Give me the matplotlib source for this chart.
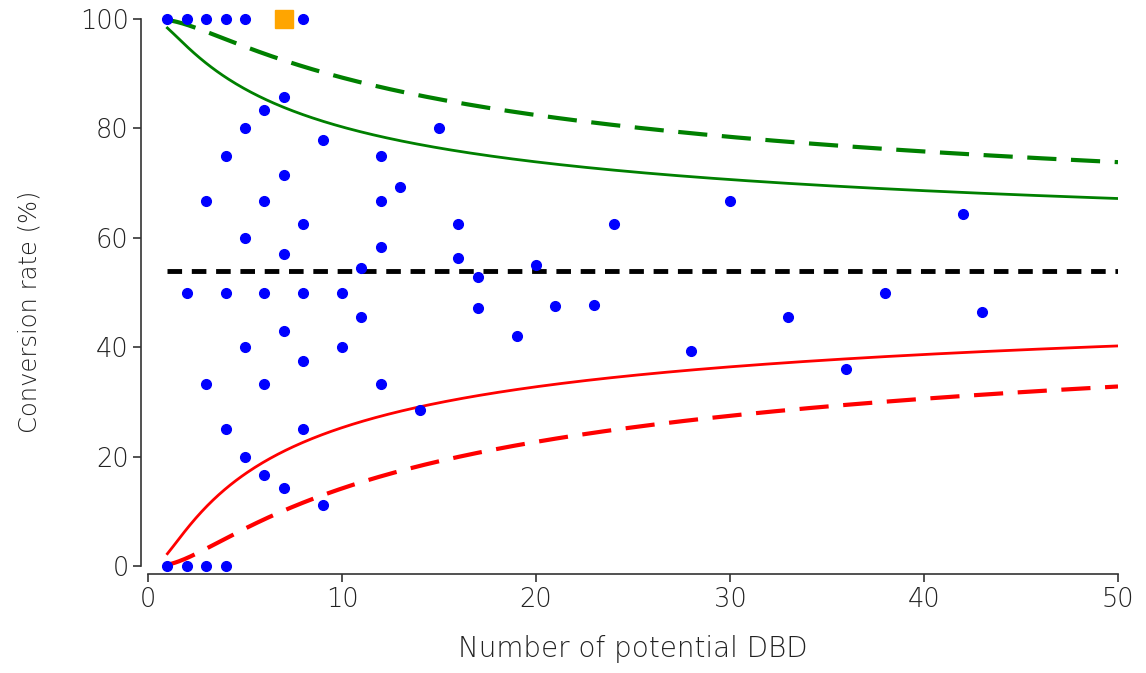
import numpy as np
import matplotlib
matplotlib.use("Agg")
import matplotlib.pyplot as plt

# --- data -------------------------------------------------------------
n_units = [1, 1, 2, 2, 2, 3, 3, 3, 3, 4, 4, 4, 4, 4,
           5, 5, 5, 5, 5, 6, 6, 6, 6, 6, 7, 7, 7, 7, 7,
           8, 8, 8, 8, 8, 9, 9, 10, 10, 11, 11, 12, 12, 12, 12,
           13, 14, 15, 16, 16, 17, 17, 19, 20, 21, 23, 24, 28, 30,
           33, 36, 38, 42, 43]
rate_pct = [100, 0, 100, 50, 0, 100, 66.7, 33.3, 0, 100, 75, 50, 25, 0,
            100, 80, 60, 40, 20, 83.3, 66.7, 50, 33.3, 16.7, 85.7, 71.4, 57.1, 42.9, 14.3,
            100, 62.5, 50, 37.5, 25, 77.8, 11.1, 50, 40, 54.5, 45.5, 75, 66.7, 58.3, 33.3,
            69.2, 28.6, 80, 62.5, 56.3, 52.9, 47.1, 42.1, 55, 47.6, 47.8, 62.5, 39.3, 66.7,
            45.5, 36.1, 50, 64.3, 46.5]
highlight_n = [7]
highlight_rate = [100]

mean_rate = 54.0          # overall conversion rate (%)
z_inner = 1.96            # 95% limits
z_outer = 3.09            # 99.8% limits
n_min, n_max = 1, 50

# --- control limits (logit-scale funnel around the mean) ---------------
n_grid = np.linspace(n_min, n_max, 500)
p0 = mean_rate / 100.0
lp = np.log(p0 / (1 - p0))
se = 1.0 / np.sqrt(n_grid * p0 * (1 - p0))
inv = lambda x: 100.0 / (1.0 + np.exp(-x))
up95, lo95 = inv(lp + z_inner * se), inv(lp - z_inner * se)
up998, lo998 = inv(lp + z_outer * se), inv(lp - z_outer * se)

# --- figure -----------------------------------------------------------
plt.rcParams['font.family'] = ['DejaVu Sans']
fig = plt.figure(figsize=(11.46, 6.73), dpi=100)
ax = fig.add_axes([148/1146, 107/673, 970/1146, 547/673])

ax.plot(n_grid, up998, color='#008000', lw=3, dashes=(7, 3.5), solid_capstyle='butt')
ax.plot(n_grid, up95, color='#008000', lw=2)
ax.plot(n_grid, lo95, color='#ff0000', lw=2)
ax.plot(n_grid, lo998, color='#ff0000', lw=3, dashes=(7, 3.5))
ax.plot([n_min, n_max], [mean_rate, mean_rate], color='black', lw=3.5, dashes=(3, 2))

ax.plot(n_units, rate_pct, 'o', color='#0000ff', ms=7, mec='#0000ff', clip_on=False, zorder=5)
ax.plot(highlight_n, highlight_rate, 's', color='#ffa500', ms=13, mec='#ffa500', clip_on=False, zorder=6)

ax.set_xlim(0, 50)
ax.set_ylim(0, 100)
ax.set_xticks([0, 10, 20, 30, 40, 50])
ax.set_yticks([0, 20, 40, 60, 80, 100])

for s in ['top', 'right']:
    ax.spines[s].set_visible(False)
ax.spines['left'].set_position(('outward', 5))
ax.spines['bottom'].set_position(('outward', 6))
ax.spines['left'].set_bounds(0, 100)
ax.spines['bottom'].set_bounds(0, 50)
for s in ['left', 'bottom']:
    ax.spines[s].set_color('#333333')
    ax.spines[s].set_linewidth(1.2)

ax.tick_params(axis='both', direction='out', length=6, width=1.2, color='#333333',
               labelsize=18.5, labelcolor='#222222', pad=3)
for lab in ax.get_xticklabels() + ax.get_yticklabels():
    lab.set_fontweight('light')
ax.set_xlabel('Number of potential DBD', fontsize=20, color='#222222',
              fontweight='light')
ax.set_ylabel('Conversion rate (%)', fontsize=17.5, color='#222222',
              fontweight='light')
ax.xaxis.set_label_coords(0.5, -0.127)
ax.yaxis.set_label_coords(-0.110, 0.465)

fig.savefig('out.png', dpi=100)
